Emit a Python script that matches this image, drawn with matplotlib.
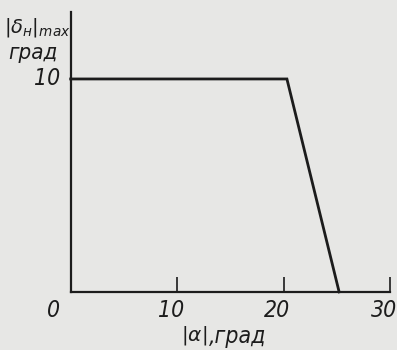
import matplotlib
matplotlib.use("Agg")
import matplotlib.pyplot as plt

# |alpha| (deg) vs maximum |delta_n| (deg)
alpha = [0.0, 20.3, 25.2]
delta_max = [10.0, 10.0, 0.0]

x_ticks = [10, 20, 30]
x_tick_labels = ["10", "20", "30"]

plt.rcParams['mathtext.fontset'] = 'dejavusans'
bg = "#e7e7e5"
ink = "#1c1c1c"

fig = plt.figure(figsize=(3.97, 3.5), dpi=100, facecolor=bg)
ax = fig.add_axes([0.178, 0.166, 0.805, 0.80])
ax.set_facecolor(bg)

ax.plot(alpha, delta_max, color=ink, lw=2.0, solid_joinstyle='miter', clip_on=False)

ax.set_xlim(0, 30)
ax.set_ylim(0, 13.15)
for s in ("top", "right"):
    ax.spines[s].set_visible(False)
for s in ("left", "bottom"):
    ax.spines[s].set_color(ink)
    ax.spines[s].set_linewidth(1.6)

ax.set_xticks(x_ticks)
ax.set_xticklabels([])
ax.tick_params(axis='x', direction='in', length=11, width=1.2, color=ink)
ax.set_yticks([])

tfont = dict(fontsize=16.5, style='italic', color=ink, family='DejaVu Sans',
             stretch='condensed')
for xv, lab in zip(x_ticks, x_tick_labels):
    ax.text(xv - 0.6, -0.33, lab, ha='center', va='top', **tfont)
ax.text(-1.65, -0.33, "0", ha='center', va='top', **tfont)
ax.text(-1.0, 10.0, "10", ha='right', va='center', **tfont)

ax.text(-0.05, 12.4, r'$|\delta_{н}|_{max}$', ha='right', va='center',
        fontsize=14, color=ink, style='italic')
ax.text(-1.2, 11.2, "град", ha='right', va='center',
        **{**tfont, 'fontsize': 16})

ax.text(11.6, -1.5, r'$|\alpha|$', ha='center', va='top',
        fontsize=14.5, color=ink)
ax.text(12.95, -1.55, ",град", ha='left', va='top',
        **{**tfont, 'fontsize': 16.5})

fig.savefig("out.png", dpi=100, facecolor=bg)
